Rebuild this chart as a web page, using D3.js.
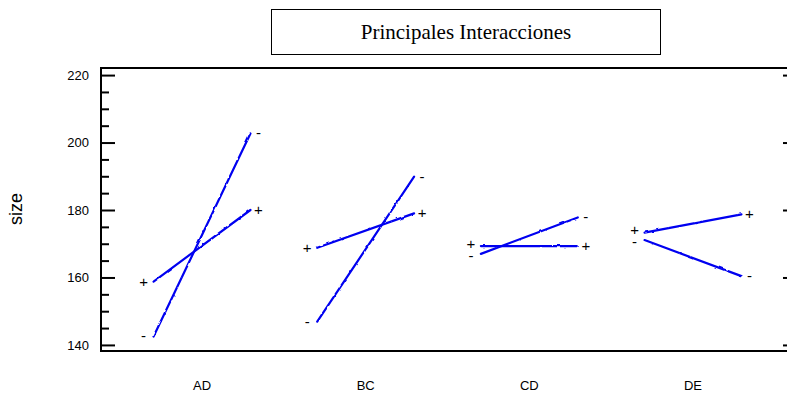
<!DOCTYPE html>
<html>
<head>
<meta charset="utf-8">
<script src="https://cdn.jsdelivr.net/npm/d3@7"></script>
<style>
  body { margin: 0; background: #fff; }
  svg { display: block; }
</style>
</head>
<body>
<svg id="chart" width="787" height="394"></svg>
<script>
// Interaction pairs along the x axis
const interactions = ["AD", "BC", "CD", "DE"];
// Mean response at the low (-) and high (+) level of the first factor,
// one line for each level of the second factor
const plusLine  = [[158.8, 180.0], [168.8, 179.0], [169.3, 169.3], [173.3, 178.7]];
const minusLine = [[142.5, 202.7], [146.9, 189.9], [167.0, 177.8], [171.1, 160.4]];
const yTicks = [140, 160, 180, 200, 220];
const yMinorTicks = [145, 150, 155, 165, 170, 175, 185, 190, 195, 205, 210, 215];
const chartTitle = "Principales Interacciones";
const yTitle = "size";

const svg = d3.select("#chart");
const frame = { left: 101, top: 68, right: 790, bottom: 351 };
const sans = "Liberation Sans, Arial, sans-serif";

const y = d3.scaleLinear().domain([138.2, 222.1]).range([frame.bottom, frame.top]);
const x = d3.scalePoint().domain(interactions).range([202, 693]);
const half = x.step() * 0.296;

// gentle waviness of the plotted traces
const defs = svg.append("defs");
const f = defs.append("filter").attr("id", "wobble")
  .attr("filterUnits", "userSpaceOnUse")
  .attr("x", 0).attr("y", 0).attr("width", 787).attr("height", 394);
f.append("feTurbulence").attr("type", "fractalNoise").attr("baseFrequency", 0.16)
  .attr("numOctaves", 1).attr("seed", 7).attr("result", "n");
f.append("feDisplacementMap").attr("in", "SourceGraphic").attr("in2", "n")
  .attr("scale", 2.6).attr("xChannelSelector", "R").attr("yChannelSelector", "G");

// title box
svg.append("rect").attr("x", 271.5).attr("y", 9.5).attr("width", 389).attr("height", 45)
  .attr("fill", "none").attr("stroke", "#000").attr("stroke-width", 1);
svg.append("text").attr("x", 466).attr("y", 39).attr("text-anchor", "middle")
  .attr("font-family", "Liberation Serif, Times New Roman, serif").attr("font-size", 21)
  .attr("fill", "#000").text(chartTitle);

// plot frame
svg.append("rect").attr("x", frame.left).attr("y", frame.top)
  .attr("width", frame.right - frame.left).attr("height", frame.bottom - frame.top)
  .attr("fill", "none").attr("stroke", "#000").attr("stroke-width", 2);

// left axis: major ticks with labels, minor ticks without
const leftAxis = svg.append("g").attr("transform", `translate(${frame.left},0)`)
  .call(d3.axisLeft(y).tickValues(yTicks).tickSizeInner(-14).tickSizeOuter(0).tickPadding(12));
const leftMinor = svg.append("g").attr("transform", `translate(${frame.left},0)`)
  .call(d3.axisLeft(y).tickValues(yMinorTicks).tickSizeInner(-8).tickSizeOuter(0).tickFormat(""));
// right axis: major ticks only
const rightAxis = svg.append("g").attr("transform", `translate(${frame.right},0)`)
  .call(d3.axisRight(y).tickValues(yTicks).tickSizeInner(-7).tickSizeOuter(0).tickFormat(""));
[leftAxis, leftMinor, rightAxis].forEach(g => {
  g.select(".domain").remove();
  g.selectAll(".tick line").attr("stroke", "#000").attr("stroke-width", 2);
});
leftAxis.selectAll(".tick text").attr("font-family", sans).attr("font-size", 13).attr("fill", "#000");

// y title
svg.append("text").attr("transform", `translate(22,209) rotate(-90)`)
  .attr("text-anchor", "middle").attr("font-family", sans).attr("font-size", 18)
  .attr("fill", "#000").text(yTitle);

// category labels
svg.append("g").selectAll("text").data(interactions).join("text")
  .attr("x", d => x(d)).attr("y", 390).attr("text-anchor", "middle")
  .attr("font-family", sans).attr("font-size", 13).attr("fill", "#000").text(d => d);

// interaction lines
const series = [
  { sign: "+", values: plusLine },
  { sign: "-", values: minusLine }
];
const segs = [];
series.forEach(s => interactions.forEach((k, i) => {
  segs.push({ key: k, sign: s.sign, lo: s.values[i][0], hi: s.values[i][1] });
}));

svg.append("g").attr("filter", "url(#wobble)").selectAll("line").data(segs).join("line")
  .attr("x1", d => x(d.key) - half).attr("y1", d => y(d.lo))
  .attr("x2", d => x(d.key) + half).attr("y2", d => y(d.hi))
  .attr("stroke", "#0000f0").attr("stroke-width", 2.2).attr("stroke-linecap", "round");

// level markers at both ends of each line; close pairs are pushed apart a little
function nudge(d, end) {
  const other = segs.find(o => o.key === d.key && o.sign !== d.sign);
  const gap = Math.abs(y(d[end]) - y(other[end]));
  if (gap >= 12) return 0;
  const push = (12 - gap) / 2;
  return y(d[end]) < y(other[end]) || (gap === 0 && d.sign === "+") ? -push : push;
}
const marks = svg.append("g").attr("font-family", sans).attr("font-size", 15).attr("fill", "#000");
marks.selectAll("text.lo").data(segs).join("text").attr("class", "lo")
  .attr("x", d => x(d.key) - half - 10).attr("y", d => y(d.lo) + 5 + nudge(d, "lo"))
  .attr("text-anchor", "middle").text(d => d.sign);
marks.selectAll("text.hi").data(segs).join("text").attr("class", "hi")
  .attr("x", d => x(d.key) + half + 8).attr("y", d => y(d.hi) + 5 + nudge(d, "hi"))
  .attr("text-anchor", "middle").text(d => d.sign);
</script>
</body>
</html>
